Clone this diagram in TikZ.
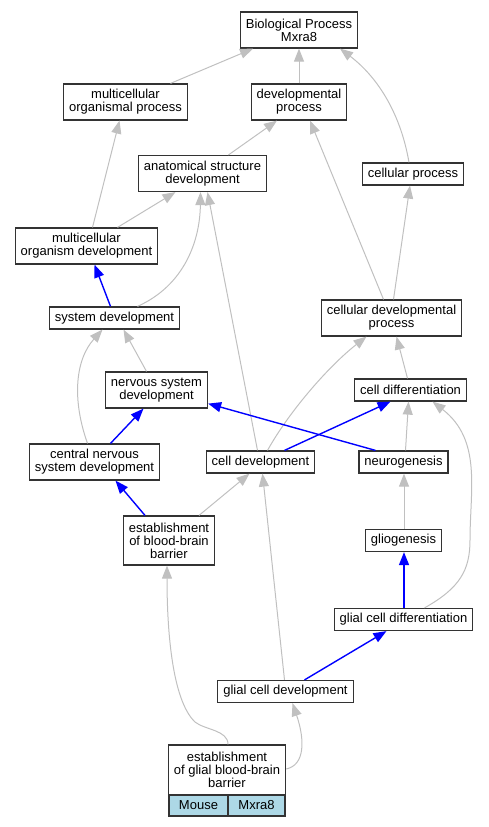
\documentclass[tikz,border=0pt]{standalone}
\usepackage{fontspec}
\setmainfont{Liberation Sans}
\usetikzlibrary{arrows.meta,positioning}
\definecolor{isagray}{RGB}{192,192,192}
\definecolor{speciesblue}{RGB}{173,216,230}
\tikzset{
  term/.style={draw=black!80,line width=1.2pt,fill=white,align=center,inner xsep=5.5pt,inner ysep=0pt,
    minimum height=22pt,font=\fontsize{13pt}{13pt}\selectfont},
  term2/.style={term,minimum height=36pt},
  term3/.style={term,minimum height=49pt},
  cell/.style={draw=black!80,line width=1.2pt,fill=speciesblue,inner sep=0pt,minimum height=21pt,
    font=\fontsize{13pt}{13pt}\selectfont},
  isa/.style={draw=isagray,line width=1pt,-{Triangle[length=13pt,width=10pt]}},
  reg/.style={draw=blue,line width=1.4pt,-{Triangle[length=13pt,width=10pt]}}
}
\begin{document}
\begin{tikzpicture}[x=1pt,y=-1pt]
        \useasboundingbox (0,0) rectangle (489,827);
        \node[term2] (bp) at (299,30) {Biological Process\\Mxra8};
        \node[term2] (mop) at (125.5,102) {multicellular\\organismal process};
        \node[term2] (devp) at (299,102) {developmental\\process};
        \node[term2] (asd) at (202.5,173.5) {anatomical structure\\development};
        \node[term] (cellp) at (413,174) {cellular process};
        \node[term2] (mod) at (86.5,246) {multicellular\\organism development};
        \node[term] (sysd) at (114.5,318) {system development};
        \node[term2] (cdp) at (391.5,318) {cellular developmental\\process};
        \node[term2] (nsd) at (156.5,390) {nervous system\\development};
        \node[term] (cdiff) at (410.5,390) {cell differentiation};
        \node[term2] (cnsd) at (94.5,462) {central nervous\\system development};
        \node[term] (celld) at (260.5,462) {cell development};
        \node[term] (neuro) at (403.5,462) {neurogenesis};
        \node[term3] (ebbb) at (169,540.5) {establishment\\of blood-brain\\barrier};
        \node[term] (glio) at (403.5,540.5) {gliogenesis};
        \node[term] (gcdiff) at (403.5,619.5) {glial cell differentiation};
        \node[term] (gcdev) at (285.5,691.5) {glial cell development};
        \node[term,minimum width=116pt,minimum height=50pt] (egbbb) at (227,770) {establishment\\of glial blood-brain\\barrier};
        \node[cell,minimum width=59pt] (mouse) at (198.5,805.5) {Mouse};
        \node[cell,minimum width=57pt] (gene) at (256.5,805.5) {Mxra8};
        \draw[isa] ([xshift=45pt]mop.north) -- ([xshift=-46pt]bp.south);
        \draw[isa] (devp.north) -- (bp.south);
        \draw[isa] ([xshift=-4pt]cellp.north) .. controls (400,110) and (375,75) .. ([xshift=41pt]bp.south);
        \draw[isa] ([xshift=26pt]asd.north) -- ([xshift=-22pt]devp.south);
        \draw[isa] ([xshift=6pt]mod.north) -- ([xshift=-6pt]mop.south);
        \draw[isa] ([xshift=31pt]mod.north) -- ([xshift=-27pt]asd.south);
        \draw[reg] ([xshift=-4pt]sysd.north) -- ([xshift=8pt]mod.south);
        \draw[isa] ([xshift=23pt]sysd.north) .. controls (185,285) and (200,240) .. ([xshift=-2pt]asd.south);
        \draw[isa] ([xshift=-3pt]celld.north) -- ([xshift=5pt]asd.south);
        \draw[isa] ([xshift=-8pt]cdp.north) -- ([xshift=11pt]devp.south);
        \draw[isa] ([xshift=2pt]cdp.north) -- ([xshift=-3pt]cellp.south);
        \draw[isa] ([xshift=-10pt]nsd.north) -- ([xshift=9pt]sysd.south);
        \draw[isa] ([xshift=-7pt]cnsd.north) .. controls (72,400) and (75,360) .. ([xshift=-12pt]sysd.south);
        \draw[isa] ([xshift=-3pt]cdiff.north) -- ([xshift=5pt]cdp.south);
        \draw[isa] ([xshift=7pt]celld.north) .. controls (290,410) and (330,365) .. ([xshift=-25pt]cdp.south);
        \draw[reg] ([xshift=16pt]cnsd.north) -- ([xshift=-13pt]nsd.south);
        \draw[reg] ([xshift=-28pt]neuro.north) -- ([yshift=5pt]nsd.south east);
        \draw[reg] ([xshift=24pt]celld.north) -- ([xshift=-20pt]cdiff.south);
        \draw[isa] ([xshift=2pt]neuro.north) -- ([xshift=-2pt]cdiff.south);
        \draw[isa] ([xshift=21pt]gcdiff.north) .. controls (460,588) and (470,570) .. (470,540)
              .. controls (470,490) and (482,440) .. ([xshift=22pt]cdiff.south);
        \draw[reg] ([xshift=-24pt]ebbb.north) -- ([xshift=21pt]cnsd.south);
        \draw[isa] ([xshift=30pt]ebbb.north) -- ([xshift=-11pt]celld.south);
        \draw[isa] ([xshift=0.5pt]glio.north) -- ([xshift=0.5pt]neuro.south);
        \draw[reg] ([xshift=0.5pt]gcdiff.north) -- ([xshift=0.5pt]glio.south);
        \draw[reg] ([xshift=19pt]gcdev.north) -- ([xshift=-17pt]gcdiff.south);
        \draw[isa] ([xshift=-1pt]gcdev.north) -- ([xshift=2pt]celld.south);
        \draw[isa] ([xshift=1pt]egbbb.north) .. controls (228,730) and (205,730) .. (195,722)
              .. controls (172,700) and (167,630) .. ([xshift=-2pt]ebbb.south);
        \draw[isa] ([yshift=1pt]egbbb.east) .. controls (305,765) and (305,740) .. ([xshift=7pt]gcdev.south);
        \end{tikzpicture}
\end{document}
